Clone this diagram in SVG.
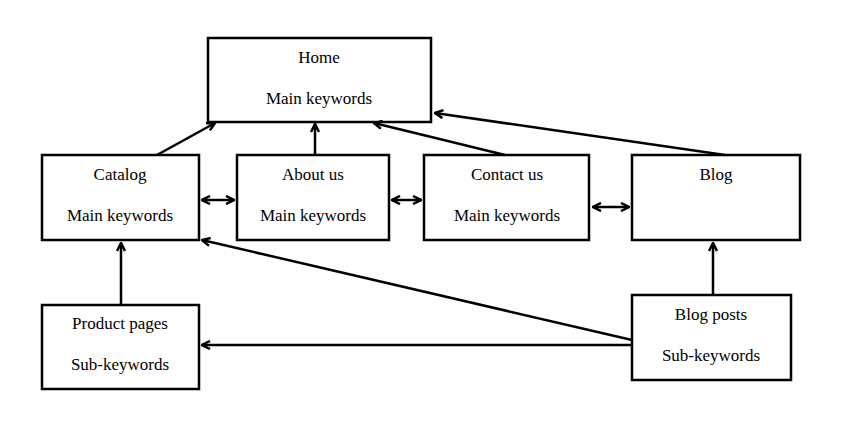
<svg xmlns="http://www.w3.org/2000/svg" width="850" height="425" viewBox="0 0 850 425">
<style>
rect{fill:#fff;stroke:#000;stroke-width:2.5}
text{font-family:"Liberation Serif",serif;font-size:17px;text-anchor:middle;fill:#000}
.c line{stroke:#000;stroke-width:2.5;marker-end:url(#a)}
.c line.d{marker-start:url(#b)}
</style>
<defs>
<marker id="a" markerWidth="10" markerHeight="10" refX="9" refY="5" orient="auto" markerUnits="userSpaceOnUse"><path d="M1,1 L9,5 L1,9" fill="none" stroke="#000" stroke-width="2.5"/></marker>
<marker id="b" markerWidth="10" markerHeight="10" refX="1" refY="5" orient="auto" markerUnits="userSpaceOnUse"><path d="M9,1 L1,5 L9,9" fill="none" stroke="#000" stroke-width="2.5"/></marker>
</defs>
<rect width="850" height="425" style="stroke:none"/>
<g id="home"><rect x="208" y="38" width="223" height="84"/><text x="319" y="63">Home</text><text x="319" y="104">Main keywords</text></g>
<g id="catalog"><rect x="42" y="155" width="157" height="85"/><text x="120" y="180">Catalog</text><text x="120" y="221">Main keywords</text></g>
<g id="about"><rect x="237" y="155" width="152" height="85"/><text x="313" y="180">About us</text><text x="313" y="221">Main keywords</text></g>
<g id="contact"><rect x="424" y="155" width="165" height="85"/><text x="507" y="180">Contact us</text><text x="507" y="221">Main keywords</text></g>
<g id="blog"><rect x="632" y="155" width="168" height="85"/><text x="716" y="180">Blog</text></g>
<g id="product"><rect x="42" y="305" width="157" height="84"/><text x="120" y="329">Product pages</text><text x="120" y="370">Sub-keywords</text></g>
<g id="posts"><rect x="632" y="295" width="159" height="85"/><text x="711" y="320">Blog posts</text><text x="711" y="361">Sub-keywords</text></g>
<g class="c" id="connectors">
<line x1="157" y1="155" x2="215" y2="123"/>
<line x1="315" y1="155" x2="315" y2="124"/>
<line x1="505" y1="155" x2="374" y2="123"/>
<line x1="725" y1="155" x2="435" y2="113"/>
<line class="d" x1="202" y1="200" x2="234" y2="200"/>
<line class="d" x1="392" y1="200" x2="421" y2="200"/>
<line class="d" x1="593" y1="207" x2="629" y2="207"/>
<line x1="121" y1="305" x2="121" y2="243"/>
<line x1="713" y1="295" x2="713" y2="243"/>
<line x1="632" y1="345" x2="202" y2="345"/>
<line x1="632" y1="340" x2="202" y2="240"/>
</g>
</svg>
